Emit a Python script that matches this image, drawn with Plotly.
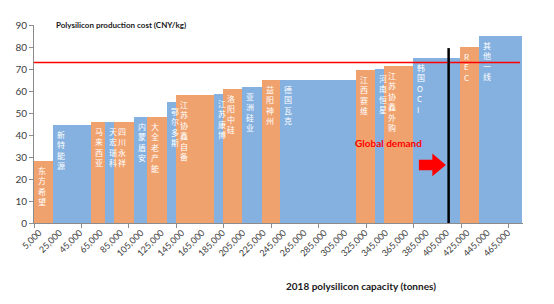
import plotly.graph_objects as go

# ---- data ----
producers = ["东方希望", "新特能源", "马来西亚", "天宏瑞科", "四川永祥", "内蒙盾安", "大全老产能",
             "鄂尔多斯", "江苏协鑫自备", "江苏康博", "洛阳中硅", "亚洲硅业", "益阳神州", "德国瓦克",
             "江西赛维", "河南恒星", "江苏协鑫外购", ["韩", "国", "O", "C", "I"], ["R", "E", "C"], "其他一线"]
capacity_kt = [18.5, 37, 14, 9, 19.5, 13, 19.5, 9, 37.5, 9, 18, 19.5, 18, 75, 18.5, 9, 28, 46, 19, 42]
cost = [28, 44.5, 46, 46, 46, 48, 48, 55, 58, 58.5, 61, 62, 65, 65, 69.5, 70, 71.5, 75, 80, 85]
price_line = 73
demand_t = 407000
demand_top = 79.5
x_ticks = list(range(5000, 480000, 20000))
y_ticks = list(range(0, 100, 10))

ORANGE = "#F0A26E"
BLUE = "#85B1E0"

widths = [c * 1000 for c in capacity_kt]
lefts = []
acc = 0
for w in widths:
    lefts.append(acc)
    acc += w
centers = [l + w / 2 for l, w in zip(lefts, widths)]
colors = [ORANGE if i % 2 == 0 else BLUE for i in range(len(cost))]

fig = go.Figure()
fig.add_trace(go.Bar(x=centers, y=cost, width=widths, marker=dict(color=colors, line=dict(width=0)),
                     hoverinfo="skip", showlegend=False))

# vertical labels inside bars
for name, l, c in zip(producers, lefts, cost):
    chars = list(name) if isinstance(name, str) else name
    fig.add_annotation(x=l, y=c, xref="x", yref="y", text="<br>".join(chars),
                       xanchor="left", yanchor="top", xshift=2, yshift=-2, showarrow=False,
                       align="left", font=dict(size=8, color="white", family="Noto Sans CJK SC"))

# price (red) line
fig.add_shape(type="line", xref="x", yref="y", x0=0, x1=477000, y0=price_line, y1=price_line,
              line=dict(color="#FF0000", width=1.5))
# demand line
fig.add_shape(type="line", xref="x", yref="y", x0=demand_t, x1=demand_t, y0=0, y1=demand_top,
              line=dict(color="black", width=2.5))
# red arrow
ax0, ax1, axm = 377800, 404300, 391000
ay, bh, hh = 26.4, 2.4, 5.2
fig.add_shape(type="path", xref="x", yref="y",
              path=f"M {ax0},{ay-bh} L {axm},{ay-bh} L {axm},{ay-hh} L {ax1},{ay} L {axm},{ay+hh} "
                   f"L {axm},{ay+bh} L {ax0},{ay+bh} Z",
              fillcolor="#FF0000", line=dict(width=0))
fig.add_annotation(x=348000, y=36.4, xref="x", yref="y", text="<b>Global demand</b>", showarrow=False,
                   font=dict(size=10, color="#FF0000", family="Lato"))

# titles
fig.add_annotation(xref="x", yref="y", x=20000, y=90, text="<b>Polysilicon production cost (CNY/kg)</b>",
                   xanchor="left", yanchor="middle", showarrow=False,
                   font=dict(size=8, color="#1a1a1a", family="Lato"))
fig.add_annotation(xref="x", yref="paper", x=321000, y=-0.32, text="<b>2018 polysilicon capacity (tonnes)</b>",
                   xanchor="center", yanchor="middle", showarrow=False,
                   font=dict(size=10, color="#1a1a1a", family="Lato"))

fig.update_layout(
    width=554, height=304,
    margin=dict(l=34, r=31, t=25, b=81),
    plot_bgcolor="white", paper_bgcolor="white",
    bargap=0,
    xaxis=dict(range=[0, 480000], tickvals=x_ticks, ticktext=[f"{v:,}" for v in x_ticks],
               tickangle=-45, showgrid=False, zeroline=False, showline=True, linecolor="#8c8c8c",
               linewidth=1, ticks="", tickfont=dict(size=9, color="#404040", family="Lato"),
               minor=dict(ticks="outside", ticklen=4, tickcolor="#8c8c8c", tick0=0, dtick=46600)),
    yaxis=dict(range=[0, 90], tickvals=y_ticks, showgrid=False, zeroline=False, showline=True,
               linecolor="#8c8c8c", linewidth=1, ticks="outside", ticklen=4, tickcolor="#8c8c8c",
               tickfont=dict(size=10, color="#404040", family="Lato")),
)

fig.write_html("out.html")
